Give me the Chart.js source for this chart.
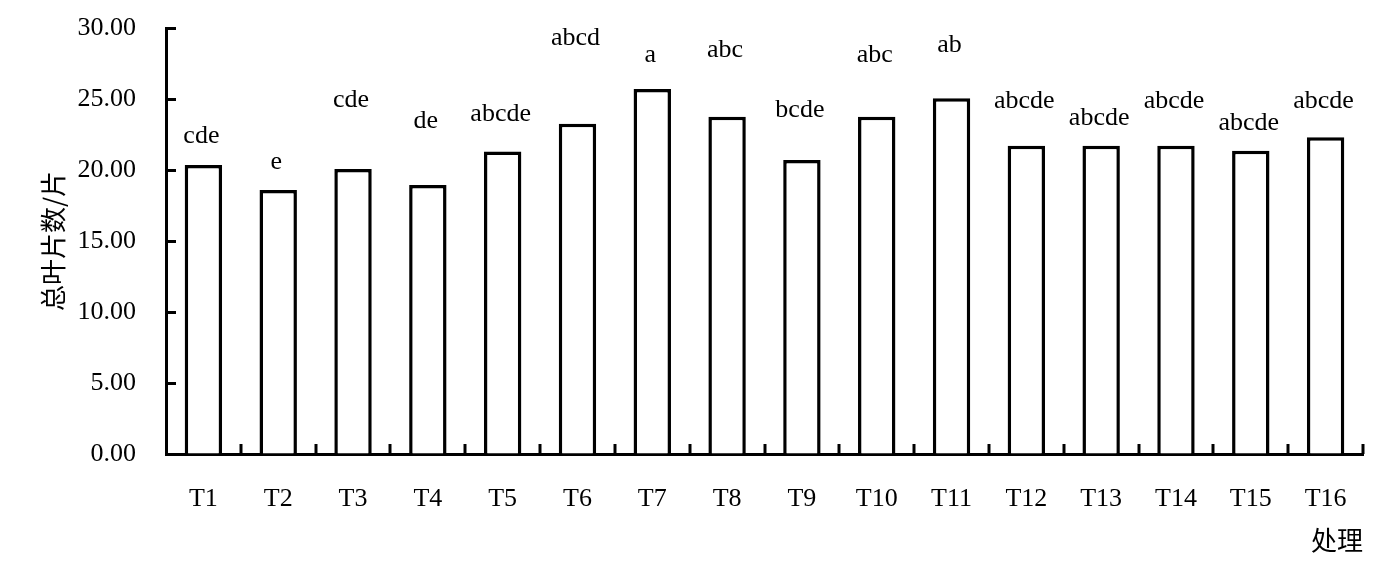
<!DOCTYPE html>
<html>
<head>
<meta charset="utf-8">
<script src="https://cdn.jsdelivr.net/npm/chart.js@4"></script>
<style>
	html, body { margin: 0; padding: 0; background: #fff; }
	#wrap { width: 1395px; height: 573px; }
</style>
</head>
<body>
<div id="wrap"><canvas id="leafChart" width="1395" height="573"></canvas></div>
<script>
// --- data ---
const treatments = ["T1", "T2", "T3", "T4", "T5", "T6", "T7", "T8", "T9", "T10", "T11", "T12", "T13", "T14", "T15", "T16"];
const leafCounts = [20.35, 18.6, 20.07, 18.94, 21.3, 23.25, 25.7, 23.75, 20.7, 23.75, 25.05, 21.7, 21.7, 21.7, 21.35, 22.3];
// significance letters and the value level they sit at (mean + sd, sd bars not drawn)
const sigLetters = ["cde", "e", "cde", "de", "abcde", "abcd", "a", "abc", "bcde", "abc", "ab", "abcde", "abcde", "abcde", "abcde", "abcde"];
const sigLevels = [22.4, 20.56, 24.9, 23.45, 23.9, 29.3, 28.1, 28.45, 24.2, 28.1, 28.8, 24.86, 23.66, 24.86, 23.3, 24.86];
const yTicks = [0, 5, 10, 15, 20, 25, 30];

const serif = "'Liberation Serif', 'Times New Roman', serif";
const cjk = "'Noto Sans CJK SC', sans-serif";

// inward tick marks + letters over bars
const extras = {
	id: "extras",
	afterDraw(chart) {
		const c = chart.ctx;
		const x = chart.scales.x;
		const y = chart.scales.y;
		c.save();
		c.strokeStyle = "#000";
		c.lineWidth = 3;
		// y ticks pointing right
		yTicks.forEach((v) => {
			const py = Math.round(y.getPixelForValue(v)) + 0.5;
			c.beginPath();
			c.moveTo(x.left, py);
			c.lineTo(x.left + 10, py);
			c.stroke();
		});
		// x ticks at category boundaries, pointing up
		for (let i = 1; i <= treatments.length; i++) {
			const px = Math.round(x.getPixelForValue(i - 0.5));
			c.beginPath();
			c.moveTo(px, y.bottom);
			c.lineTo(px, y.bottom - 10);
			c.stroke();
		}
		// letters
		c.fillStyle = "#000";
		c.font = "26px " + serif;
		c.textAlign = "center";
		c.textBaseline = "middle";
		sigLetters.forEach((s, i) => {
			c.fillText(s, x.getPixelForValue(i) - 2, y.getPixelForValue(sigLevels[i]));
		});
		c.restore();
	},
};

new Chart(document.getElementById("leafChart"), {
	type: "bar",
	data: {
		labels: treatments,
		datasets: [
			{
				label: "总叶片数",
				data: leafCounts,
				backgroundColor: "#fff",
				borderColor: "#000",
				borderWidth: 3.5,
				barPercentage: 0.5,
				categoryPercentage: 1,
			},
		],
	},
	options: {
		responsive: false,
		animation: false,
		layout: { padding: { top: 28, right: 32, left: 0, bottom: 0 } },
		plugins: { legend: { display: false }, tooltip: { enabled: false } },
		scales: {
			x: {
				grid: { display: false, drawTicks: false },
				border: { display: true, color: "#000", width: 3 },
				ticks: { color: "#000", font: { family: serif, size: 26 }, padding: 30 },
				title: {
					display: true,
					text: "处理",
					align: "end",
					color: "#000",
					font: { family: cjk, size: 26 },
					padding: { top: 0, bottom: 17 },
				},
				afterFit: (s) => { s.height = 573 - 454; },
			},
			y: {
				min: 0,
				max: 30,
				afterBuildTicks: (s) => { s.ticks = yTicks.map((v) => ({ value: v })); },
				// invisible tick marks give the label gap without padding the top
				grid: { display: true, drawOnChartArea: false, drawTicks: true, tickLength: 22, tickColor: "rgba(0,0,0,0)" },
				border: { display: true, color: "#000", width: 3 },
				ticks: {
					color: "#000",
					font: { family: serif, size: 26 },
					padding: 8,
					callback: (v) => Number(v).toFixed(2),
				},
				title: {
					display: true,
					text: "总叶片数/片",
					color: "#000",
					font: { family: cjk, size: 26 },
					padding: { top: 38, bottom: 0 },
				},
				afterFit: (s) => { s.width = 166; },
			},
		},
	},
	plugins: [extras],
});
</script>
</body>
</html>
